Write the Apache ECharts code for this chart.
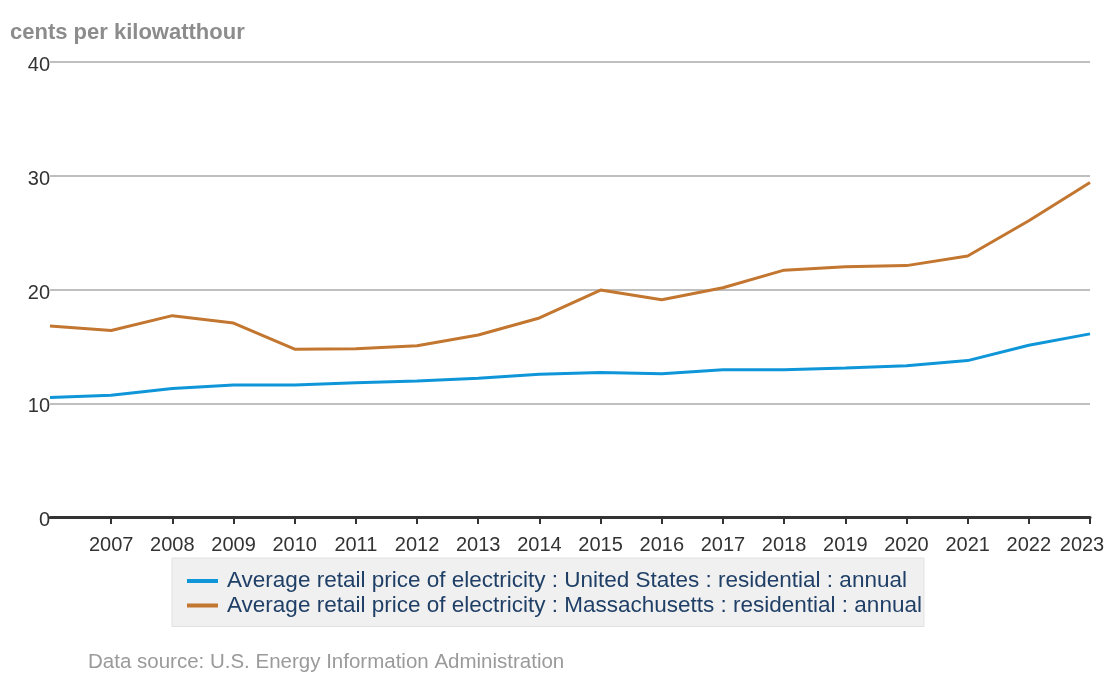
<!DOCTYPE html>
<html>
<head>
<meta charset="utf-8">
<script src="https://cdn.jsdelivr.net/npm/echarts@6/dist/echarts.min.js"></script>
<style>
html,body{margin:0;padding:0;background:#fff;overflow:hidden;}
#chart{width:1106px;height:677px;}
</style>
</head>
<body>
<div id="chart"></div>
<script>
const years = ['2006','2007','2008','2009','2010','2011','2012','2013','2014','2015','2016','2017','2018','2019','2020','2021','2022','2023'];
const usValues = [10.5, 10.7, 11.3, 11.6, 11.6, 11.8, 11.95, 12.2, 12.55, 12.7, 12.6, 12.95, 12.95, 13.1, 13.3, 13.75, 15.1, 16.1];
const maValues = [16.8, 16.4, 17.7, 17.05, 14.75, 14.8, 15.05, 16.0, 17.5, 19.95, 19.1, 20.15, 21.7, 22.0, 22.1, 22.95, 26.05, 29.4];
const seriesNames = [
  'Average retail price of electricity : United States : residential : annual',
  'Average retail price of electricity : Massachusetts : residential : annual'
];
const yTicks = [0, 10, 20, 30, 40];

const chart = echarts.init(document.getElementById('chart'));
const font = 'Liberation Sans, Arial, sans-serif';
const lastIdx = years.length - 1;
chart.setOption({
  animation: false,
  textStyle: { fontFamily: font },
  title: [{
    text: 'cents per kilowatthour',
    left: 5, top: 17,
    textStyle: { fontSize: 22, fontWeight: 'bold', color: '#8c8c8c', fontFamily: font }
  }, {
    text: 'Data source: U.S. Energy Information Administration',
    left: 83, top: 647,
    textStyle: { fontSize: 20.5, fontWeight: 'normal', color: '#9a9a9a', fontFamily: font }
  }],
  grid: { left: 50, right: 16, top: 62, bottom: 160, containLabel: false, outerBoundsMode: 'none' },
  legend: {
    orient: 'vertical',
    left: 172, top: 558,
    backgroundColor: '#f0f0f0',
    borderColor: '#e0e0e0', borderWidth: 1,
    padding: [11, 2, 9, 15],
    itemGap: 0.5,
    itemWidth: 31, itemHeight: 4,
    icon: 'rect',
    textStyle: { fontSize: 22.5, color: '#1f3f66', fontFamily: font, lineHeight: 24, padding: [0, 0, 0, 4] },
    data: seriesNames
  },
  xAxis: {
    type: 'category',
    data: years,
    boundaryGap: false,
    axisLine: { lineStyle: { color: '#333', width: 3 } },
    axisTick: {
      length: 7, lineStyle: { color: '#333', width: 2 },
      interval: function (i) { return i > 0; }
    },
    axisLabel: {
      interval: function (i) { return i > 0; },
      fontSize: 20, color: '#333', margin: 18, fontFamily: font,
      formatter: function (v, i) { return i === lastIdx ? '{r|' + v + '}' : v; },
      rich: { r: { fontSize: 20, color: '#333', fontFamily: font, padding: [0, 16, 0, 0] } }
    },
    splitLine: { show: false }
  },
  yAxis: {
    type: 'value',
    min: yTicks[0], max: yTicks[yTicks.length - 1], interval: 10,
    axisLine: { show: false },
    axisTick: { show: false },
    axisLabel: { color: '#333', margin: 0, fontFamily: font,
      formatter: function (v) { return yTicks.indexOf(v) >= 0 ? '{a|' + v + '}' : ''; },
      rich: { a: { fontSize: 20, color: '#333', fontFamily: font, padding: [7, 0, 0, 0] } } },
    splitLine: { lineStyle: { color: '#bfbfbf', width: 2 } }
  },
  series: [{
    name: seriesNames[0],
    type: 'line',
    data: usValues,
    showSymbol: false,
    lineStyle: { color: '#0f96d9', width: 3 },
    itemStyle: { color: '#0f96d9' }
  }, {
    name: seriesNames[1],
    type: 'line',
    data: maValues,
    showSymbol: false,
    lineStyle: { color: '#c3762f', width: 3 },
    itemStyle: { color: '#c3762f' }
  }]
});
</script>
</body>
</html>
